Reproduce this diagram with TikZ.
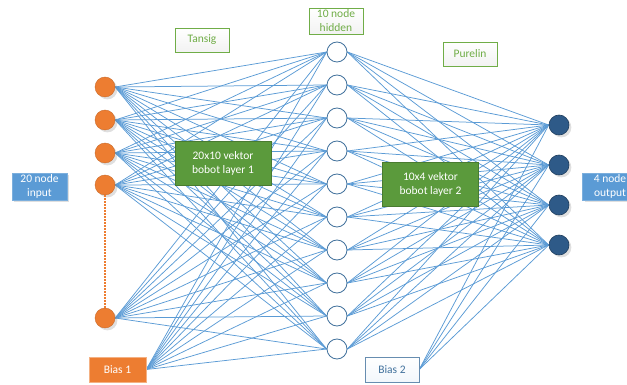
\documentclass[tikz,border=0pt]{standalone}
\usepackage{fontspec}
\setmainfont{Carlito}
\usetikzlibrary{backgrounds,shadows}

\definecolor{linkblue}{HTML}{5B9BD5}
\definecolor{inorange}{HTML}{ED7D31}
\definecolor{hidblue}{HTML}{41719C}
\definecolor{outblue}{HTML}{2E5A88}
\definecolor{labgreen}{HTML}{70AD47}
\definecolor{boxgreen}{HTML}{5B9A3C}

\tikzset{
  innode/.style={circle,fill=inorange,draw=inorange!85!black,line width=0.4pt,
    minimum size=20pt,inner sep=0pt,drop shadow={opacity=0.25}},
  hidnode/.style={circle,fill=white,draw=hidblue,line width=0.8pt,
    minimum size=20pt,inner sep=0pt},
  outnode/.style={circle,fill=outblue,draw=outblue!70!black,line width=0.6pt,
    minimum size=20pt,inner sep=0pt,drop shadow={opacity=0.25}},
  link/.style={draw=linkblue,line width=0.75pt},
  txt/.style={font=\fontsize{11.5}{14}\selectfont,align=center,inner sep=1pt},
  funcbox/.style={txt,draw=labgreen,line width=0.8pt,top color=white,
    bottom color=gray!10,text=labgreen,minimum width=54pt,minimum height=24pt},
  wbox/.style={txt,fill=boxgreen,draw=boxgreen!80!black,line width=0.4pt,
    text=white,minimum width=96pt,minimum height=44pt},
  iobox/.style={txt,fill=linkblue,draw=linkblue!80!white,text=white,
    minimum width=55pt,minimum height=27pt,drop shadow={opacity=0.25}},
}

\begin{document}
\begin{tikzpicture}[x=1pt,y=-1pt]
  \useasboundingbox (0,0) rectangle (627,385);

  % 输入层
  \foreach \i/\y in {1/87,2/120,3/153,4/185,5/318}
    \node[innode] (x\i) at (105,\y) {};
  \draw[inorange,line width=1.3pt,dash pattern=on 1.5pt off 1.5pt] (x4.south) -- (x5.north);

  % 隐藏层
  \foreach \j in {1,...,10}
    \node[hidnode] (h\j) at (337,{19+33*\j}) {};

  % 输出层
  \foreach \k in {1,...,4}
    \node[outnode] (o\k) at (559,{85+40*\k}) {};

  % 偏置
  \node[txt,fill=inorange,draw=inorange!60!white,text=white,minimum width=57pt,
    minimum height=25pt] (b1) at (117.5,369.5) {Bias 1};
  \node[txt,top color=white,bottom color=linkblue!8,draw=hidblue!80!white,
    text=hidblue,minimum width=54pt,minimum height=25pt] (b2) at (392,369.5) {Bias 2};

  % 标签
  \node[iobox] (lin) at (39.5,186.5) {20 node\\input};
  \node[iobox] (lout) at (610,186.5) {4 node\\output};
  \node[funcbox] (tansig) at (202,40) {Tansig};
  \node[funcbox,minimum height=26pt] (lhid) at (336,21) {10 node\\hidden};
  \node[funcbox] (purelin) at (470,54) {Purelin};

  % 权重矩阵
  \node[wbox] (w1) at (223,163.5) {20x10 vektor\\bobot layer 1};
  \node[wbox] (w2) at (430.5,184.5) {10x4 vektor\\bobot layer 2};

  % 连线
  \begin{scope}[on background layer]
    \foreach \i in {1,...,5}
      \foreach \j in {1,...,10}
        \draw[link] (x\i.east) -- (h\j.west);
    \foreach \j in {1,...,10}
      \draw[link] (b1.east) -- (h\j.west);
    \foreach \j in {1,...,10}
      \foreach \k in {1,...,4}
        \draw[link] (h\j.east) -- (o\k.west);
    \foreach \k in {1,...,4}
      \draw[link] (b2.east) -- (o\k.west);
  \end{scope}
\end{tikzpicture}
\end{document}
